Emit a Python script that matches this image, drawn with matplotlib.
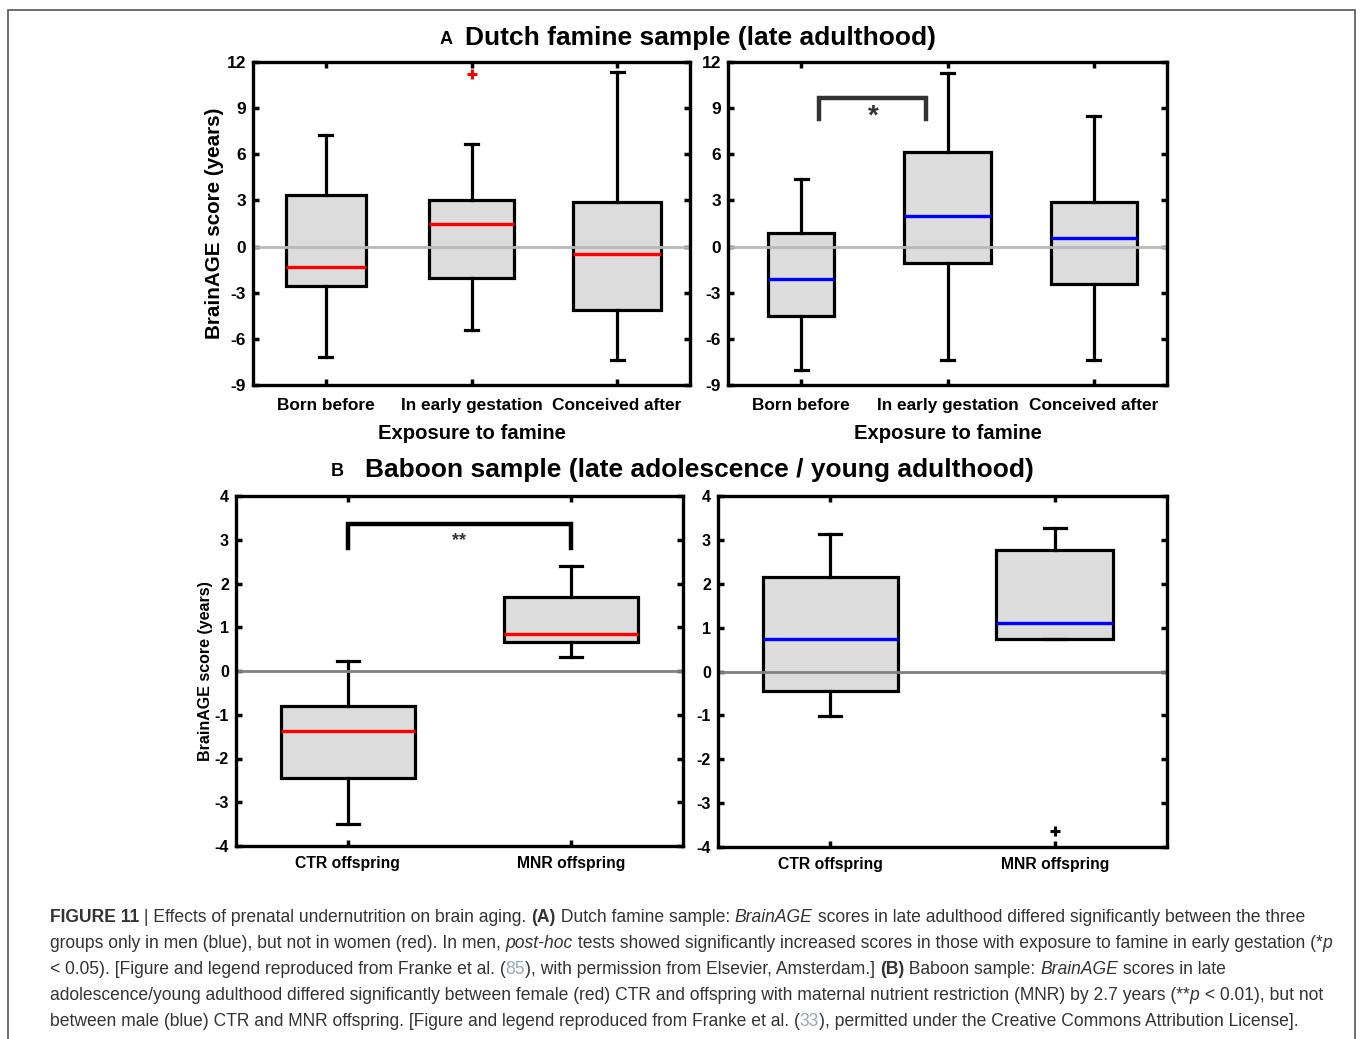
import matplotlib
matplotlib.use("Agg")
import matplotlib.pyplot as plt
from matplotlib import font_manager
from matplotlib.patches import Rectangle

# ---------------- data ----------------
dutch_groups = ["Born before", "In early gestation", "Conceived after"]
# women (red)
dutch_w_low = [-7.15, -5.4, -7.4]
dutch_w_q1 = [-2.55, -2.05, -4.1]
dutch_w_med = [-1.3, 1.5, -0.5]
dutch_w_q3 = [3.35, 3.05, 2.9]
dutch_w_high = [7.25, 6.7, 11.35]
dutch_w_fliers = [[], [11.25], []]
dutch_w_widths = [0.55, 0.58, 0.6]
# men (blue)
dutch_m_low = [-8.0, -7.4, -7.35]
dutch_m_q1 = [-4.5, -1.05, -2.45]
dutch_m_med = [-2.1, 2.0, 0.55]
dutch_m_q3 = [0.85, 6.15, 2.9]
dutch_m_high = [4.4, 11.3, 8.5]
dutch_m_fliers = [[], [], []]
dutch_m_widths = [0.45, 0.6, 0.59]

baboon_groups = ["CTR offspring", "MNR offspring"]
# female (red)
bab_f_low = [-3.5, 0.33]
bab_f_q1 = [-2.45, 0.67]
bab_f_med = [-1.38, 0.85]
bab_f_q3 = [-0.79, 1.7]
bab_f_high = [0.23, 2.4]
bab_f_fliers = [[], []]
bab_f_widths = [0.6, 0.6]
# male (blue)
bab_m_low = [-1.02, 0.73]
bab_m_q1 = [-0.44, 0.73]
bab_m_med = [0.75, 1.11]
bab_m_q3 = [2.16, 2.76]
bab_m_high = [3.14, 3.28]
bab_m_fliers = [[], [-3.64]]
bab_m_widths = [0.6, 0.52]

dutch_yticks = [-9, -6, -3, 0, 3, 6, 9, 12]
baboon_yticks = [-4, -3, -2, -1, 0, 1, 2, 3, 4]

# ---------------- style ----------------
plt.rcParams["font.family"] = ["Liberation Sans", "DejaVu Sans"]
plt.rcParams["font.weight"] = "bold"

W, H = 1360, 1039
fig = plt.figure(figsize=(W / 100, H / 100), dpi=100)

def px_rect(l, t, r, b):
    return [l / W, 1 - b / H, (r - l) / W, (b - t) / H]

def make_stats(labels, low, q1, med, q3, high, fliers):
    stats = []
    for i in range(len(labels)):
        stats.append(dict(label=labels[i], whislo=low[i], q1=q1[i], med=med[i],
                          q3=q3[i], whishi=high[i], fliers=fliers[i]))
    return stats

def draw_panel(ax, labels, low, q1, med, q3, high, fliers, widths, medcolor,
               flier_color, yticks, zero_color, tick_fs, xlab_fs, capw, xpad):
    stats = make_stats(labels, low, q1, med, q3, high, fliers)
    n = len(labels)
    ax.bxp(stats, positions=range(1, n + 1), widths=widths, patch_artist=True,
           showfliers=True, capwidths=[capw] * n,
           boxprops=dict(facecolor="#dcdcdc", edgecolor="black", linewidth=2.3),
           medianprops=dict(color=medcolor, linewidth=2.4),
           whiskerprops=dict(color="black", linewidth=2.3),
           capprops=dict(color="black", linewidth=2.3),
           flierprops=dict(marker="+", markeredgecolor=flier_color,
                           markersize=7, markeredgewidth=2.2))
    ax.axhline(0, color=zero_color, lw=2.0, zorder=2.5, solid_capstyle="butt")
    ax.set_xlim(0.5, n + 0.5)
    ax.set_ylim(yticks[0], yticks[-1])
    ax.set_yticks(yticks)
    ax.set_yticklabels([str(t) for t in yticks], fontsize=tick_fs, fontweight="bold")
    ax.set_xticks(range(1, n + 1))
    ax.set_xticklabels(labels, fontsize=xlab_fs, fontweight="bold")
    ax.tick_params(direction="in", length=4, width=2.5, top=True, right=True)
    ax.tick_params(axis="y", pad=5)
    ax.tick_params(axis="x", pad=xpad)
    for s in ax.spines.values():
        s.set_linewidth(2.4)

# Panel A
axA1 = fig.add_axes(px_rect(253, 62, 690, 385))
draw_panel(axA1, dutch_groups, dutch_w_low, dutch_w_q1, dutch_w_med, dutch_w_q3,
           dutch_w_high, dutch_w_fliers, dutch_w_widths, "red", "red",
           dutch_yticks, "#b8b8b8", 12.5, 12.4, 0.09, 9.5)
axA2 = fig.add_axes(px_rect(728, 62, 1167, 385))
draw_panel(axA2, dutch_groups, dutch_m_low, dutch_m_q1, dutch_m_med, dutch_m_q3,
           dutch_m_high, dutch_m_fliers, dutch_m_widths, "blue", "blue",
           dutch_yticks, "#b8b8b8", 12.5, 12.4, 0.09, 9.5)
for ax in (axA1, axA2):
    ax.set_xlabel("Exposure to famine", fontsize=14.6, fontweight="bold", labelpad=8)
axA1.set_ylabel("BrainAGE score (years)", fontsize=14.9, fontweight="bold", labelpad=2)

# significance bracket A (men)
axA2.plot([1.125, 1.125, 1.85, 1.85], [8.3, 9.65, 9.65, 8.3], color="#333333",
          lw=3.2, solid_joinstyle="miter", clip_on=False)
axA2.text(1.49, 8.45, "*", ha="center", va="center", fontsize=20, fontweight="bold",
          color="#333333")

# Panel B
axB1 = fig.add_axes(px_rect(236, 496, 683, 846))
draw_panel(axB1, baboon_groups, bab_f_low, bab_f_q1, bab_f_med, bab_f_q3,
           bab_f_high, bab_f_fliers, bab_f_widths, "red", "red",
           baboon_yticks, "#808080", 11.5, 11.3, 0.1, 7)
axB2 = fig.add_axes(px_rect(718, 496, 1167, 847))
draw_panel(axB2, baboon_groups, bab_m_low, bab_m_q1, bab_m_med, bab_m_q3,
           bab_m_high, bab_m_fliers, bab_m_widths, "blue", "black",
           baboon_yticks, "#808080", 11.5, 11.3, 0.1, 7)
axB1.set_ylabel("BrainAGE score (years)", fontsize=11.5, fontweight="bold", labelpad=1)
axB1.plot([1.0, 1.0, 2.0, 2.0], [2.82, 3.36, 3.36, 2.82], color="black", lw=3.2,
          solid_joinstyle="miter")
axB1.text(1.5, 2.98, "**", ha="center", va="center", fontsize=13, fontweight="bold",
          color="#333333")

# panel titles
fig.text(440 / W, 1 - 40 / H, "A", fontsize=13, fontweight="bold", va="center", ha="left")
fig.text(465 / W, 1 - 38 / H, "Dutch famine sample (late adulthood)", fontsize=19,
         fontweight="bold", va="center", ha="left")
fig.text(331 / W, 1 - 472 / H, "B", fontsize=13, fontweight="bold", va="center", ha="left")
fig.text(365 / W, 1 - 470 / H, "Baboon sample (late adolescence / young adulthood)",
         fontsize=19, fontweight="bold", va="center", ha="left")

# frame around figure
fig.patches.append(Rectangle((8 / W, -0.01), (1355 - 8) / W, 1 - 10 / H + 0.01,
                             transform=fig.transFigure, fill=False,
                             edgecolor="#555555", lw=1.2))

# ---------------- caption ----------------
names = {f.name for f in font_manager.fontManager.ttflist}
cap_family = "Liberation Sans Narrow" if "Liberation Sans Narrow" in names else "Liberation Sans"
txtcol = "#333333"
refcol = "#9aa7b5"
N, B, I, R = "normal", "bold", "italic", "ref"
caption_lines = [
    [("FIGURE 11", B), (" | Effects of prenatal undernutrition on brain aging. ", N), ("(A)", B),
     (" Dutch famine sample: ", N), ("BrainAGE", I),
     (" scores in late adulthood differed significantly between the three", N)],
    [("groups only in men (blue), but not in women (red). In men, ", N), ("post-hoc", I),
     (" tests showed significantly increased scores in those with exposure to famine in early gestation (*", N),
     ("p", I)],
    [("< 0.05). [Figure and legend reproduced from Franke et al. (", N), ("85", R),
     ("), with permission from Elsevier, Amsterdam.] ", N), ("(B)", B), (" Baboon sample: ", N),
     ("BrainAGE", I), (" scores in late", N)],
    [("adolescence/young adulthood differed significantly between female (red) CTR and offspring with maternal nutrient restriction (MNR) by 2.7 years (**", N),
     ("p", I), (" < 0.01), but not", N)],
    [("between male (blue) CTR and MNR offspring. [Figure and legend reproduced from Franke et al. (", N),
     ("33", R), ("), permitted under the Creative Commons Attribution License].", N)],
]
line_y = [918, 944, 970, 996, 1022]
x0 = 50
renderer = fig.canvas.get_renderer()

def seg_props(kind):
    if kind == B:
        return dict(fontweight="bold", fontstyle="normal", color=txtcol)
    if kind == I:
        return dict(fontweight="normal", fontstyle="italic", color=txtcol)
    if kind == R:
        return dict(fontweight="normal", fontstyle="normal", color=refcol)
    return dict(fontweight="normal", fontstyle="normal", color=txtcol)

def draw_line(segs, y, fs):
    x = x0
    arts = []
    for s, kind in segs:
        t = fig.text(x / W, 1 - y / H, s, fontsize=fs, family=cap_family,
                     va="center", ha="left", **seg_props(kind))
        bb = t.get_window_extent(renderer)
        x += bb.width
        arts.append(t)
    return x, arts

# calibrate font size on the widest line (line 4 ends near x=1333)
fs = 11.5
end, arts = draw_line(caption_lines[3], line_y[3], fs)
for a in arts:
    a.remove()
fs = fs * (1333 - x0) / (end - x0)
for segs, y in zip(caption_lines, line_y):
    draw_line(segs, y, fs)

fig.savefig("out.png", dpi=100)
